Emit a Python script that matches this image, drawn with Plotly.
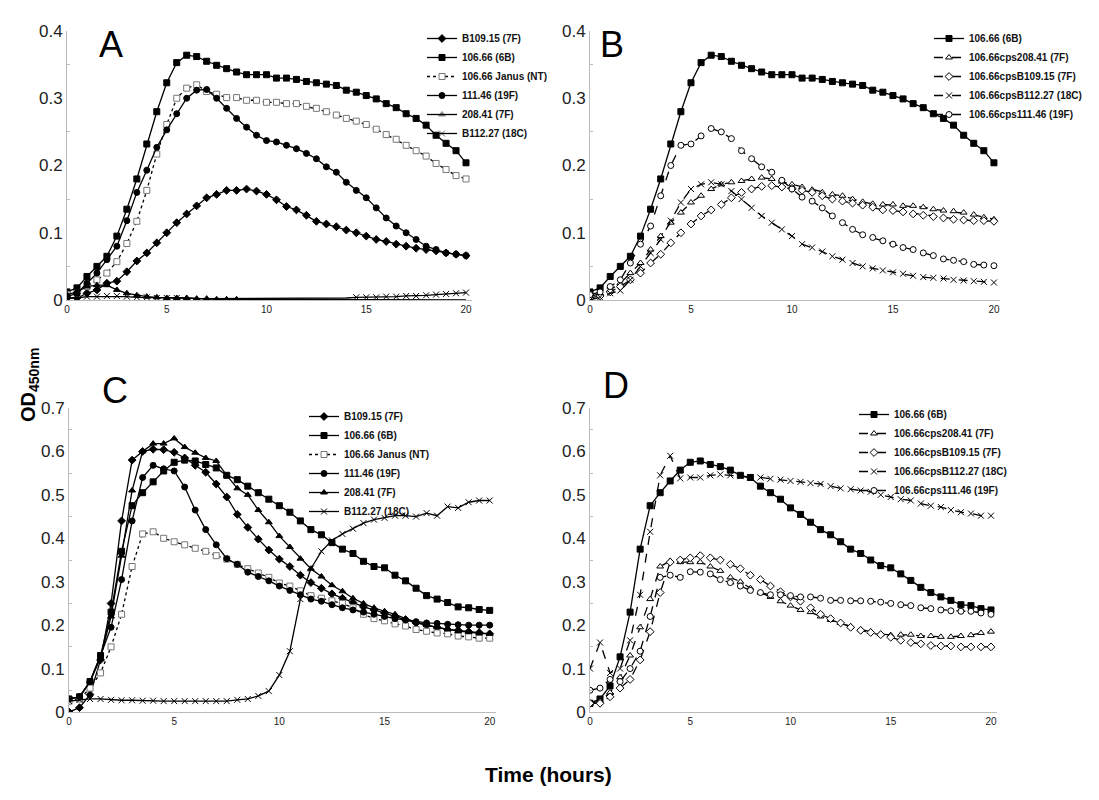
import plotly.graph_objects as go

t = [i * 0.5 for i in range(41)]

# Panel A
A_109 = [.003,.003,.01,.015,.025,.028,.042,.058,.07,.085,.1,.115,.128,.14,.152,.157,.163,.163,.165,.162,.157,.149,.139,.134,.126,.117,.113,.109,.104,.1,.095,.09,.087,.083,.08,.077,.075,.073,.07,.068,.066]
A_6B = [.012,.018,.035,.05,.065,.095,.135,.18,.232,.28,.323,.353,.364,.362,.355,.349,.344,.339,.335,.335,.335,.33,.33,.328,.325,.323,.321,.319,.312,.309,.304,.299,.292,.286,.277,.27,.26,.245,.233,.222,.204]
A_NT = [.008,.01,.02,.03,.04,.057,.084,.117,.163,.217,.261,.3,.315,.32,.31,.306,.301,.301,.297,.297,.294,.294,.292,.292,.288,.285,.28,.275,.27,.266,.261,.254,.246,.239,.23,.222,.214,.203,.194,.185,.18]
A_111 = [.005,.01,.025,.04,.06,.08,.118,.16,.193,.227,.253,.277,.3,.312,.313,.3,.285,.27,.257,.245,.237,.235,.23,.225,.218,.21,.198,.19,.175,.163,.152,.137,.122,.11,.1,.09,.08,.075,.07,.068,.066]
A_208 = [.008,.012,.02,.022,.022,.015,.01,.007,.005,.004,.003,.003,.003,.002,.002,.001,.001,.001,.001,.001,.001,.001,.001,.001,.001,.001,.001,.001,.001,.001,.001,.001,.001,.001,.001,0,0,0,0,0,0]
A_112 = [.003,.003,.005,.005,.006,.006,.005,.004,.004,.003,.003,.003,.003,.002,.002,.002,.002,.002,.002,.002,.002,.002,.002,.002,.002,.002,.002,.002,.003,.004,.004,.004,.005,.005,.006,.006,.007,.008,.009,.01,.011]

# Panel B
B_6B = A_6B
B_208 = [.005,.01,.015,.025,.04,.055,.075,.095,.115,.13,.145,.155,.165,.172,.175,.177,.18,.182,.18,.176,.172,.168,.164,.16,.157,.155,.15,.146,.143,.142,.142,.14,.14,.138,.135,.133,.132,.13,.127,.123,.12]
B_109 = [.003,.006,.012,.02,.03,.04,.055,.068,.085,.1,.113,.125,.134,.142,.152,.16,.165,.169,.17,.168,.166,.163,.16,.155,.15,.147,.144,.141,.138,.134,.133,.131,.128,.126,.124,.122,.12,.119,.118,.118,.117]
B_112 = [0,.004,.01,.014,.03,.05,.07,.09,.118,.145,.165,.172,.175,.172,.162,.15,.137,.125,.115,.105,.095,.083,.078,.072,.065,.06,.055,.05,.047,.044,.041,.039,.036,.034,.033,.032,.03,.029,.028,.027,.026]
B_111 = [.008,.012,.02,.03,.055,.083,.11,.155,.2,.23,.232,.244,.255,.25,.24,.222,.21,.198,.19,.178,.165,.153,.147,.137,.125,.115,.105,.097,.093,.088,.083,.078,.075,.07,.066,.061,.059,.057,.053,.052,.051]

# Panel C
C_109 = [0,.01,.04,.12,.25,.44,.58,.6,.605,.604,.598,.585,.568,.552,.525,.495,.455,.425,.398,.373,.352,.335,.315,.298,.285,.272,.262,.252,.242,.235,.228,.22,.212,.205,.2,.195,.19,.188,.185,.183,.18]
C_6B = [.03,.035,.07,.13,.23,.37,.475,.505,.53,.555,.575,.58,.578,.57,.562,.545,.535,.52,.505,.49,.475,.46,.44,.42,.408,.39,.375,.365,.347,.335,.332,.315,.302,.285,.268,.26,.252,.242,.24,.236,.234]
C_NT = [.025,.03,.055,.09,.15,.225,.335,.41,.415,.4,.392,.385,.377,.37,.36,.352,.34,.33,.32,.31,.297,.29,.279,.268,.262,.256,.25,.24,.225,.215,.21,.203,.198,.19,.186,.182,.18,.175,.173,.17,.17]
C_111 = [.03,.035,.07,.13,.195,.305,.44,.54,.568,.56,.555,.518,.465,.42,.385,.353,.34,.322,.312,.302,.29,.28,.27,.26,.255,.247,.24,.235,.23,.225,.22,.215,.212,.208,.205,.204,.202,.201,.2,.2,.2]
C_208 = [.03,.035,.07,.125,.22,.36,.51,.6,.618,.618,.63,.61,.597,.585,.578,.545,.515,.5,.465,.437,.405,.38,.353,.33,.312,.292,.278,.262,.25,.24,.232,.225,.215,.207,.2,.195,.19,.186,.184,.181,.18]
C_112 = [.025,.028,.03,.03,.028,.027,.027,.026,.026,.025,.025,.025,.025,.025,.025,.025,.028,.03,.037,.048,.085,.14,.26,.33,.37,.395,.41,.422,.435,.443,.447,.452,.452,.45,.458,.452,.473,.47,.483,.487,.487]

# Panel D
D_6B = [.02,.03,.06,.127,.23,.375,.475,.505,.532,.557,.575,.578,.57,.565,.557,.545,.54,.52,.505,.49,.47,.455,.437,.42,.408,.392,.375,.365,.35,.337,.332,.318,.303,.287,.275,.265,.257,.247,.245,.238,.235]
D_208 = [.02,.025,.045,.08,.13,.195,.26,.335,.348,.345,.345,.345,.335,.325,.31,.3,.285,.275,.265,.255,.245,.235,.23,.22,.212,.205,.197,.19,.185,.18,.177,.178,.178,.175,.175,.173,.173,.175,.177,.182,.185]
D_109 = [.02,.02,.035,.055,.075,.12,.185,.275,.345,.35,.355,.36,.355,.35,.34,.33,.315,.305,.29,.277,.265,.255,.24,.225,.215,.205,.195,.188,.183,.178,.172,.165,.16,.157,.153,.152,.152,.15,.15,.15,.15]
D_112 = [.1,.16,.09,.1,.165,.27,.415,.545,.59,.538,.54,.54,.545,.547,.545,.543,.54,.54,.537,.535,.532,.53,.527,.525,.52,.515,.513,.51,.507,.5,.495,.49,.487,.48,.475,.472,.465,.46,.457,.452,.452]
D_111 = [.05,.055,.075,.07,.1,.14,.22,.31,.315,.31,.323,.322,.318,.305,.298,.29,.28,.275,.27,.27,.268,.265,.265,.262,.257,.257,.256,.256,.255,.253,.25,.247,.245,.24,.238,.235,.233,.232,.232,.228,.225]

fig = go.Figure()
W, H = 1099, 800
OX, OY = 8, 8  # page body margin offset
def px(x):
    return (x - OX) / W
def py(y):
    return 1 - (y - OY) / H

panels = {
    1: ([px(67), px(472)], [py(300), py(31)], 0.4),
    2: ([px(590), px(1000)], [py(300), py(31)], 0.4),
    3: ([px(69), px(496)], [py(712), py(408)], 0.7),
    4: ([px(590), px(997)], [py(712), py(408)], 0.7),
}
for i, (xd, yd, ym) in panels.items():
    s = "" if i == 1 else str(i)
    fig.layout["xaxis" + s] = dict(domain=xd, range=[0, 20.3], tickvals=[0, 5, 10, 15, 20],
        showgrid=False, zeroline=False, showline=True, linecolor="#bbbbbb", linewidth=1,
        tickfont=dict(size=10, color="#222", family="Arial"), anchor="y" + s, ticks="", automargin=False)
    fig.layout["yaxis" + s] = dict(domain=yd, range=[0, ym], dtick=0.1, showgrid=False,
        zeroline=False, showline=True, linecolor="#bbbbbb", linewidth=1,
        tickfont=dict(size=17, color="#222", family="Arial"), anchor="x" + s, automargin=False,
        ticks="", minor=dict(ticks="inside", dtick=0.05, ticklen=3, tickcolor="#bbbbbb"))

blk = "black"
def add(panel, name, y, sym, fill, dash="solid", lcolor=blk, mcolor=None, opac=None):
    s = "" if panel == 1 else str(panel)
    lg = "legend" if panel == 1 else "legend" + str(panel)
    mk = dict(symbol=sym, size=6, color=fill, line=dict(color=mcolor or blk, width=1))
    if opac is not None:
        mk["opacity"] = opac
    fig.add_trace(go.Scatter(x=t, y=y, name="<b>" + name + "</b>", mode="lines+markers",
        xaxis="x" + s, yaxis="y" + s,
        line=dict(color=lcolor, width=1.3, dash=dash), marker=mk, legend=lg))

a208_op = [1 if v <= 8.5 else 0 for v in t]
a112_op = [1 if (v <= 5.5 or v >= 14.5) else 0 for v in t]
add(1, "B109.15 (7F)", A_109, "diamond", blk)
add(1, "106.66 (6B)", A_6B, "square", blk)
add(1, "106.66 Janus (NT)", A_NT, "square", "white", dash="dot", mcolor="#777")
add(1, "111.46 (19F)", A_111, "circle", blk)
add(1, "208.41 (7F)", A_208, "triangle-up", blk, opac=a208_op)
add(1, "B112.27 (18C)", A_112, "x-thin-open", blk, opac=a112_op)

add(2, "106.66 (6B)", B_6B, "square", blk)
add(2, "106.66cps208.41 (7F)", B_208, "triangle-up", "white", dash="dash")
add(2, "106.66cpsB109.15 (7F)", B_109, "diamond", "white", dash="dash")
add(2, "106.66cpsB112.27 (18C)", B_112, "x-thin-open", blk, dash="dash")
add(2, "106.66cps111.46 (19F)", B_111, "circle", "white", dash="dash")

add(3, "B109.15 (7F)", C_109, "diamond", blk)
add(3, "106.66 (6B)", C_6B, "square", blk)
add(3, "106.66 Janus (NT)", C_NT, "square", "white", dash="dot", mcolor="#777")
add(3, "111.46 (19F)", C_111, "circle", blk)
add(3, "208.41 (7F)", C_208, "triangle-up", blk)
add(3, "B112.27 (18C)", C_112, "x-thin-open", blk)

add(4, "106.66 (6B)", D_6B, "square", blk)
add(4, "106.66cps208.41 (7F)", D_208, "triangle-up", "white", dash="dash")
add(4, "106.66cpsB109.15 (7F)", D_109, "diamond", "white", dash="dash")
add(4, "106.66cpsB112.27 (18C)", D_112, "x-thin-open", blk, dash="dash")
add(4, "106.66cps111.46 (19F)", D_111, "circle", "white", dash="dash")

leg = dict(font=dict(size=10, family="Arial", color="#111"), bgcolor="rgba(0,0,0,0)",
           tracegroupgap=0, itemwidth=30, xanchor="left", yanchor="top")
fig.update_layout(
    legend=dict(leg, x=px(422), y=py(24)),
    legend2=dict(leg, x=px(929), y=py(24)),
    legend3=dict(leg, x=px(304), y=py(402)),
    legend4=dict(leg, x=px(854), y=py(400)),
)

anns = [("A", 97, 22), ("B", 612, 22), ("C", 100, 390), ("D", 616, 386)]
for txt, x, y in anns:
    fig.add_annotation(text=txt, x=px(x), y=py(y), xref="paper", yref="paper", showarrow=False,
                       font=dict(size=36, family="Arial", color="black"))
fig.add_annotation(text="<b>OD<sub>450nm</sub></b>", x=px(30), y=py(385), xref="paper", yref="paper",
                   xanchor="center", yanchor="middle",
                   showarrow=False, textangle=-90, font=dict(size=20, family="Arial", color="black"))
fig.add_annotation(text="<b>Time (hours)</b>", x=px(548), y=py(788), xref="paper", yref="paper",
                   showarrow=False, font=dict(size=21, family="Arial", color="black"))

fig.update_layout(width=W, height=H, margin=dict(l=0, r=0, t=0, b=0), plot_bgcolor="white",
                  paper_bgcolor="white", showlegend=True)
fig.write_html("out.html")
